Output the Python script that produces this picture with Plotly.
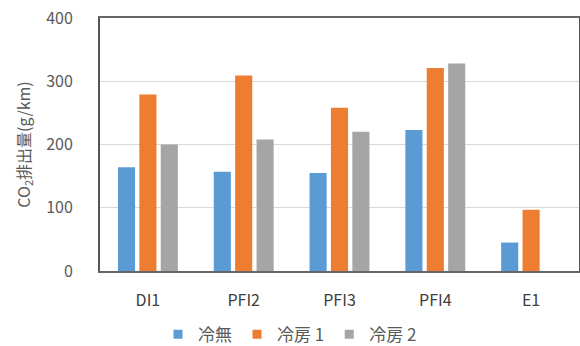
import plotly.graph_objects as go

# Vehicle categories and CO2 emission values (g/km) per A/C condition
categories = ["DI1", "PFI2", "PFI3", "PFI4", "E1"]
series_names = ["冷無", "冷房 1", "冷房 2"]
ac_off = [164, 157, 155, 223, 45]
ac_1 = [279, 309, 258, 321, 97]
ac_2 = [200, 208, 220, 328, None]
y_ticks = [0, 100, 200, 300, 400]

colors = ["#5B9BD5", "#ED7D31", "#A5A5A5"]
font_family = "Noto Sans CJK JP, Noto Sans, sans-serif"
text_color = "#595959"

fig = go.Figure()
for name, vals, col in zip(series_names, [ac_off, ac_1, ac_2], colors):
    fig.add_trace(go.Bar(x=categories, y=vals, name=name, marker_color=col,
                         marker_line_width=0, showlegend=False, legendgroup=name))
# small square legend keys
for name, col in zip(series_names, colors):
    fig.add_trace(go.Scatter(x=[None], y=[None], mode="markers", name=name,
                             legendgroup=name,
                             marker=dict(symbol="square", size=9, color=col)))

fig.update_layout(
    width=580, height=346,
    margin=dict(l=100, r=1, t=18, b=75, autoexpand=False),
    paper_bgcolor="white", plot_bgcolor="white",
    barmode="group", bargap=0.33, bargroupgap=0.2,
    font=dict(family=font_family, size=16, color=text_color),
    showlegend=True,
    legend=dict(orientation="h", xref="container", x=0.5, xanchor="center",
                yref="container", y=0.033, yanchor="middle",
                font=dict(size=17, color=text_color), itemwidth=30,
                traceorder="normal", tracegroupgap=0),
)
fig.update_xaxes(showline=True, linecolor="#666666", linewidth=2, mirror=True,
                 ticks="", ticklabelstandoff=14, tickangle=0,
                 tickfont=dict(size=16, color="#404040"))
fig.update_yaxes(range=[0, 400], tickvals=y_ticks, showgrid=True, gridcolor="#D9D9D9",
                 showline=True, linecolor="#555555", linewidth=2, mirror=True,
                 ticks="", ticklabelstandoff=22, zeroline=False,
                 tickfont=dict(size=16, color=text_color),
                 title=dict(text="CO<sub>2</sub>排出量(g/km)", standoff=12,
                            font=dict(size=16, color=text_color)))

fig.write_html("out.html")
